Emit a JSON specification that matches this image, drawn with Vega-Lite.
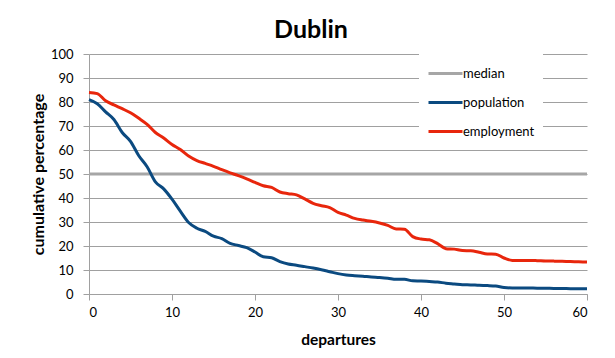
{
  "$schema": "https://vega.github.io/schema/vega-lite/v6.json",
  "width": 498,
  "height": 240,
  "autosize": {"type": "none"},
  "padding": {"left": 89, "top": 54, "right": 28, "bottom": 64},
  "background": "white",
  "title": {
    "text": "Dublin",
    "font": "Lato",
    "fontSize": 25,
    "fontWeight": "bold",
    "color": "#000000",
    "anchor": "middle",
    "dx": -27,
    "offset": 5
  },
  "config": {
    "view": {"stroke": null},
    "font": "Lato"
  },
  "datasets": {
    "series": [
      {"departures": 0, "series": "median", "pct": 50},
      {"departures": 60, "series": "median", "pct": 50},
      {"departures": 0, "series": "population", "pct": 81.0},
      {"departures": 1, "series": "population", "pct": 79.3},
      {"departures": 2, "series": "population", "pct": 75.9},
      {"departures": 3, "series": "population", "pct": 72.7},
      {"departures": 4, "series": "population", "pct": 67.3},
      {"departures": 5, "series": "population", "pct": 63.6},
      {"departures": 6, "series": "population", "pct": 57.6},
      {"departures": 7, "series": "population", "pct": 53.0},
      {"departures": 8, "series": "population", "pct": 46.7},
      {"departures": 9, "series": "population", "pct": 43.8},
      {"departures": 10, "series": "population", "pct": 39.5},
      {"departures": 11, "series": "population", "pct": 34.5},
      {"departures": 12, "series": "population", "pct": 29.8},
      {"departures": 13, "series": "population", "pct": 27.4},
      {"departures": 14, "series": "population", "pct": 26.1},
      {"departures": 15, "series": "population", "pct": 24.1},
      {"departures": 16, "series": "population", "pct": 23.1},
      {"departures": 17, "series": "population", "pct": 21.1},
      {"departures": 18, "series": "population", "pct": 20.2},
      {"departures": 19, "series": "population", "pct": 19.3},
      {"departures": 20, "series": "population", "pct": 17.5},
      {"departures": 21, "series": "population", "pct": 15.5},
      {"departures": 22, "series": "population", "pct": 15.1},
      {"departures": 23, "series": "population", "pct": 13.5},
      {"departures": 24, "series": "population", "pct": 12.5},
      {"departures": 25, "series": "population", "pct": 12.0},
      {"departures": 26, "series": "population", "pct": 11.4},
      {"departures": 27, "series": "population", "pct": 10.8},
      {"departures": 28, "series": "population", "pct": 10.1},
      {"departures": 29, "series": "population", "pct": 9.3},
      {"departures": 30, "series": "population", "pct": 8.5},
      {"departures": 31, "series": "population", "pct": 7.95},
      {"departures": 32, "series": "population", "pct": 7.65},
      {"departures": 33, "series": "population", "pct": 7.4},
      {"departures": 34, "series": "population", "pct": 7.1},
      {"departures": 35, "series": "population", "pct": 6.9},
      {"departures": 36, "series": "population", "pct": 6.6},
      {"departures": 37, "series": "population", "pct": 6.1},
      {"departures": 38, "series": "population", "pct": 6.1},
      {"departures": 39, "series": "population", "pct": 5.5},
      {"departures": 40, "series": "population", "pct": 5.4},
      {"departures": 41, "series": "population", "pct": 5.2},
      {"departures": 42, "series": "population", "pct": 5.0},
      {"departures": 43, "series": "population", "pct": 4.5},
      {"departures": 44, "series": "population", "pct": 4.2},
      {"departures": 45, "series": "population", "pct": 3.9},
      {"departures": 46, "series": "population", "pct": 3.8},
      {"departures": 47, "series": "population", "pct": 3.6},
      {"departures": 48, "series": "population", "pct": 3.5},
      {"departures": 49, "series": "population", "pct": 3.3},
      {"departures": 50, "series": "population", "pct": 2.7},
      {"departures": 51, "series": "population", "pct": 2.5},
      {"departures": 52, "series": "population", "pct": 2.5},
      {"departures": 53, "series": "population", "pct": 2.5},
      {"departures": 54, "series": "population", "pct": 2.4},
      {"departures": 55, "series": "population", "pct": 2.4},
      {"departures": 56, "series": "population", "pct": 2.3},
      {"departures": 57, "series": "population", "pct": 2.3},
      {"departures": 58, "series": "population", "pct": 2.2},
      {"departures": 59, "series": "population", "pct": 2.2},
      {"departures": 60, "series": "population", "pct": 2.2},
      {"departures": 0, "series": "employment", "pct": 84.0},
      {"departures": 1, "series": "employment", "pct": 83.5},
      {"departures": 2, "series": "employment", "pct": 80.5},
      {"departures": 3, "series": "employment", "pct": 78.8},
      {"departures": 4, "series": "employment", "pct": 77.2},
      {"departures": 5, "series": "employment", "pct": 75.5},
      {"departures": 6, "series": "employment", "pct": 73.2},
      {"departures": 7, "series": "employment", "pct": 70.7},
      {"departures": 8, "series": "employment", "pct": 67.3},
      {"departures": 9, "series": "employment", "pct": 65.0},
      {"departures": 10, "series": "employment", "pct": 62.3},
      {"departures": 11, "series": "employment", "pct": 60.2},
      {"departures": 12, "series": "employment", "pct": 57.5},
      {"departures": 13, "series": "employment", "pct": 55.6},
      {"departures": 14, "series": "employment", "pct": 54.4},
      {"departures": 15, "series": "employment", "pct": 53.2},
      {"departures": 16, "series": "employment", "pct": 51.8},
      {"departures": 17, "series": "employment", "pct": 50.5},
      {"departures": 18, "series": "employment", "pct": 49.3},
      {"departures": 19, "series": "employment", "pct": 48.0},
      {"departures": 20, "series": "employment", "pct": 46.5},
      {"departures": 21, "series": "employment", "pct": 45.1},
      {"departures": 22, "series": "employment", "pct": 44.4},
      {"departures": 23, "series": "employment", "pct": 42.5},
      {"departures": 24, "series": "employment", "pct": 41.8},
      {"departures": 25, "series": "employment", "pct": 41.3},
      {"departures": 26, "series": "employment", "pct": 39.6},
      {"departures": 27, "series": "employment", "pct": 37.8},
      {"departures": 28, "series": "employment", "pct": 36.8},
      {"departures": 29, "series": "employment", "pct": 36.0},
      {"departures": 30, "series": "employment", "pct": 34.0},
      {"departures": 31, "series": "employment", "pct": 32.9},
      {"departures": 32, "series": "employment", "pct": 31.5},
      {"departures": 33, "series": "employment", "pct": 30.8},
      {"departures": 34, "series": "employment", "pct": 30.3},
      {"departures": 35, "series": "employment", "pct": 29.6},
      {"departures": 36, "series": "employment", "pct": 28.6},
      {"departures": 37, "series": "employment", "pct": 27.1},
      {"departures": 38, "series": "employment", "pct": 27.0},
      {"departures": 39, "series": "employment", "pct": 23.9},
      {"departures": 40, "series": "employment", "pct": 22.9},
      {"departures": 41, "series": "employment", "pct": 22.6},
      {"departures": 42, "series": "employment", "pct": 21.0},
      {"departures": 43, "series": "employment", "pct": 18.9},
      {"departures": 44, "series": "employment", "pct": 18.7},
      {"departures": 45, "series": "employment", "pct": 18.1},
      {"departures": 46, "series": "employment", "pct": 18.0},
      {"departures": 47, "series": "employment", "pct": 17.4},
      {"departures": 48, "series": "employment", "pct": 16.7},
      {"departures": 49, "series": "employment", "pct": 16.6},
      {"departures": 50, "series": "employment", "pct": 15.0},
      {"departures": 51, "series": "employment", "pct": 14.0},
      {"departures": 52, "series": "employment", "pct": 14.0},
      {"departures": 53, "series": "employment", "pct": 14.0},
      {"departures": 54, "series": "employment", "pct": 13.9},
      {"departures": 55, "series": "employment", "pct": 13.75},
      {"departures": 56, "series": "employment", "pct": 13.7},
      {"departures": 57, "series": "employment", "pct": 13.6},
      {"departures": 58, "series": "employment", "pct": 13.5},
      {"departures": 59, "series": "employment", "pct": 13.4},
      {"departures": 60, "series": "employment", "pct": 13.3}
    ]
  },
  "data": {"name": "series"},
  "mark": {"type": "line", "strokeWidth": 3, "interpolate": "monotone"},
  "encoding": {
    "x": {
      "field": "departures",
      "type": "quantitative",
      "scale": {"domain": [0, 60], "nice": false},
      "axis": {
        "values": [0, 10, 20, 30, 40, 50, 60],
        "grid": false,
        "domainColor": "#a0a0a0",
        "tickColor": "#a0a0a0",
        "tickSize": 6,
        "labelFontSize": 13,
        "labelColor": "#000000",
        "labelPadding": 6,
        "labelFont": "Lato",
        "title": "departures",
        "titleFont": "Lato",
        "titleFontSize": 15.5,
        "titleFontWeight": "bold",
        "titleColor": "#000000",
        "titlePadding": 13
      }
    },
    "y": {
      "field": "pct",
      "type": "quantitative",
      "scale": {"domain": [0, 100], "nice": false},
      "axis": {
        "values": [0, 10, 20, 30, 40, 50, 60, 70, 80, 90, 100],
        "grid": true,
        "gridColor": "#a0a0a0",
        "gridWidth": 1,
        "domainColor": "#a0a0a0",
        "tickColor": "#a0a0a0",
        "tickSize": 6,
        "labelFontSize": 13,
        "labelColor": "#000000",
        "labelPadding": 10,
        "labelFont": "Lato",
        "title": "cumulative percentage",
        "titleFont": "Lato",
        "titleFontSize": 16,
        "titleFontWeight": "bold",
        "titleColor": "#000000",
        "titlePadding": 4
      }
    },
    "color": {
      "field": "series",
      "type": "nominal",
      "scale": {
        "domain": ["median", "population", "employment"],
        "range": ["#a6a6a6", "#0b4a80", "#e8260c"]
      },
      "legend": {
        "title": null,
        "orient": "none",
        "legendX": 330,
        "legendY": 0,
        "fillColor": "white",
        "padding": 8,
        "symbolType": "M-1.7,0H1.7",
        "symbolSize": 400,
        "symbolStrokeWidth": 3,
        "symbolOffset": 7,
        "labelFont": "Lato",
        "labelFontSize": 13,
        "labelColor": "#000000",
        "labelOffset": 6,
        "rowPadding": 10
      }
    }
  }
}
